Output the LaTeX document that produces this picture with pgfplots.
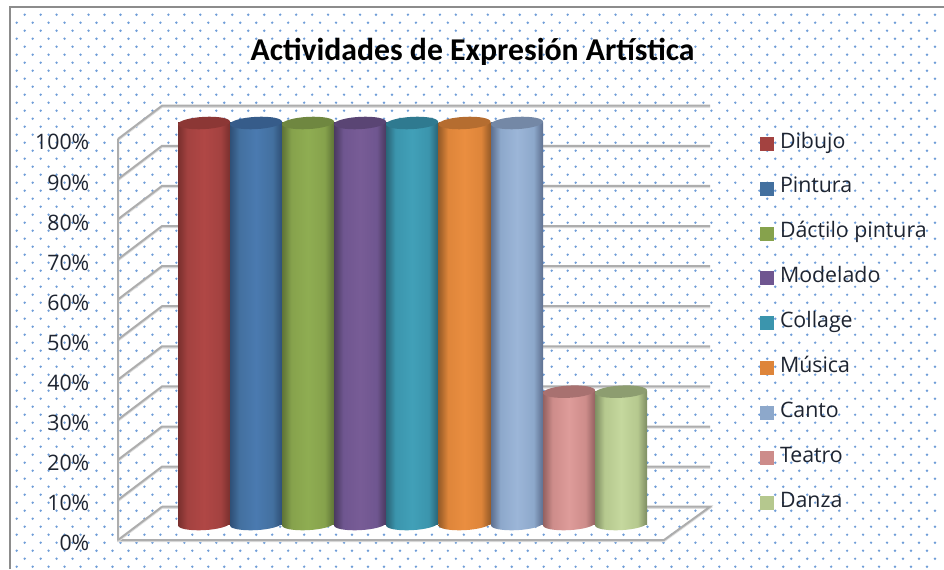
\documentclass[border=0pt]{standalone}
\usepackage{fontspec}
\usepackage{pgfplots}
\pgfplotsset{compat=1.18}
\setmainfont{Open Sans}
\newfontfamily\carlito{Carlito}
\definecolor{gridc}{HTML}{ADADAD}
\definecolor{shadc}{HTML}{DEDEDE}
\definecolor{dotc}{HTML}{6F9DD8}
\definecolor{framec}{HTML}{8C8C8C}
\definecolor{txt}{HTML}{1E2430}
% name, dark edge, mid, light centre, top ellipse
\newcommand{\cyl}[5]{%
  \definecolor{#1D}{HTML}{#2}\definecolor{#1M}{HTML}{#3}\definecolor{#1L}{HTML}{#4}\definecolor{#1T}{HTML}{#5}%
  \pgfdeclarehorizontalshading{shade#1}{100bp}{color(0bp)=(#1D); color(25bp)=(#1D); color(28bp)=(#1D!70!#1M); color(34bp)=(#1M); color(50bp)=(#1L); color(66bp)=(#1M); color(72bp)=(#1D!70!#1M); color(75bp)=(#1D); color(100bp)=(#1D)}%
  \pgfdeclareplotmark{bot#1}{\pgfpathellipse{\pgfpointorigin}{\pgfqpoint{19.5pt}{1pt}}{\pgfqpoint{0pt}{4.6pt}}\pgfshadepath{shade#1}{0}\pgfusepath{discard}}%
  \pgfdeclareplotmark{top#1}{\pgfsetfillcolor{#1T}\pgfpathellipse{\pgfpointorigin}{\pgfqpoint{19.5pt}{1pt}}{\pgfqpoint{0pt}{4.6pt}}\pgfusepathqfill}%
}
\cyl{a}{7A302E}{A34240}{B04745}{8C3735}
\cyl{b}{2F5077}{43709F}{4A7AB0}{365C8A}
\cyl{c}{5F7437}{86A24C}{8FAD52}{6F8740}
\cyl{d}{4B3A60}{6F5690}{785C96}{5A4574}
\cyl{e}{2A6578}{3B95AD}{41A0B8}{2F7A90}
\cyl{f}{985C28}{DE853A}{EA8E40}{B56D30}
\cyl{g}{5E7090}{8DA8CB}{9CB6D8}{7488A6}
\cyl{h}{946261}{CD8C8A}{DE9C9A}{A87170}
\cyl{i}{7F8E63}{B5C88E}{C5D89E}{8D9D70}
\newcommand{\cylbar}[3]{%
  \addplot[forget plot,only marks,mark=bot#1] coordinates {(#2,0)};
  \addplot[forget plot,ybar,bar width=39pt,bar shift=0pt,draw=none,shade,shading=shade#1] coordinates {(#2,#3)};
  \addplot[forget plot,only marks,mark=top#1] coordinates {(#2,#3)};
}
\newcommand{\gridl}[1]{%
  \addplot[forget plot,shadc,line width=1.3pt,yshift=-1pt] coordinates {#1};
  \addplot[forget plot,gridc,line width=1.5pt] coordinates {#1};
}
\begin{document}
\begin{tikzpicture}
\path[use as bounding box,fill=white] (0pt,0pt) rectangle (708pt,-426.75pt);
% dotted chart-area background
\begin{scope}[x=0.75pt,y=-0.75pt]
\clip (11,9) rectangle (944,569);
\foreach \r in {0,...,35} { \foreach \k in {0,...,58} {
  \fill[dotc] ({0.7+15.97*\k},{6.7+16*\r}) circle (1pt);
  \fill[dotc] ({8.7+15.97*\k},{14.7+16*\r}) circle (1pt);
}}
\end{scope}
\begin{scope}[x=0.75pt,y=-0.75pt]
\draw[framec,line width=1.5pt] (9.5,569) -- (9.5,7) -- (944,7);
\end{scope}

% walls, gridlines and y axis
\begin{axis}[at={(88.5pt,-426.75pt)},anchor=south west,scale only axis,width=619.5pt,height=426.75pt,
  xmin=118,xmax=944,ymin=-7.23,ymax=134.66,clip=false,
  axis line style={draw=none},xtick=\empty,ytick={0,10,...,100},major tick length=0pt,
  ytick pos=left,
  /pgf/number format/assume math mode=true,
  yticklabel={\pgfmathprintnumber{\tick}\%},
  y tick label style={font=\fontsize{16}{16}\selectfont,text=txt,anchor=east,xshift=-18pt,yshift=-2.5pt}]
\gridl{(118,10)(162,18.3)(710,18.3)}
\gridl{(118,20)(162,28.3)(710,28.3)}
\gridl{(118,30)(162,38.3)(710,38.3)}
\gridl{(118,40)(162,48.3)(710,48.3)}
\gridl{(118,50)(162,58.3)(710,58.3)}
\gridl{(118,60)(162,68.3)(710,68.3)}
\gridl{(118,70)(162,78.3)(710,78.3)}
\gridl{(118,80)(162,88.3)(710,88.3)}
\gridl{(118,90)(162,98.3)(710,98.3)}
\gridl{(118,100)(162,108.3)(710,108.3)}
\gridl{(162,8.3)(710,8.3)(664,0)(118,0)(118,100)}
\gridl{(118,0)(162,8.3)}
\end{axis}

% cylinders, title, legend
\begin{axis}[at={(0pt,-426.75pt)},anchor=south west,scale only axis,width=708pt,height=426.75pt,
  xmin=0,xmax=944,ymin=-11.22,ymax=130.67,clip=false,hide axis,
  title={\carlito\bfseries Actividades de Expresión Artística},
  title style={at={(0.5006,0.894)},anchor=center,font=\fontsize{23.8}{23.8}\selectfont,text=black},
  legend style={at={(760/944,1-136/569)},anchor=north west,draw=none,fill=none,inner sep=0pt,outer sep=0pt,
    row sep=22.2pt,font=\fontsize{16}{16}\selectfont,text=txt,
    nodes={inner sep=0pt,anchor=west,text height=9pt,text depth=2.5pt},
    /tikz/column 1/.style={column sep=4.5pt},
    /tikz/column 2/.style={column sep=0pt}},
  legend cell align=left,
  legend image code/.code={\path[draw=none,#1] (0pt,-5.25pt) rectangle (10.5pt,5.25pt);}]
\cylbar{a}{204}{100}
\cylbar{b}{256}{100}
\cylbar{c}{308}{100}
\cylbar{d}{360}{100}
\cylbar{e}{412}{100}
\cylbar{f}{464.5}{100}
\cylbar{g}{517}{100}
\cylbar{h}{569}{33}
\cylbar{i}{621}{33}
\addlegendimage{fill=aM}\addlegendentry{Dibujo}
\addlegendimage{fill=bM}\addlegendentry{Pintura}
\addlegendimage{fill=cM}\addlegendentry{Dáctilo pintura}
\addlegendimage{fill=dM}\addlegendentry{Modelado}
\addlegendimage{fill=eM}\addlegendentry{Collage}
\addlegendimage{fill=fM}\addlegendentry{Música}
\addlegendimage{fill=gM}\addlegendentry{Canto}
\addlegendimage{fill=hM}\addlegendentry{Teatro}
\addlegendimage{fill=iM}\addlegendentry{Danza}
\end{axis}
\end{tikzpicture}
\end{document}
